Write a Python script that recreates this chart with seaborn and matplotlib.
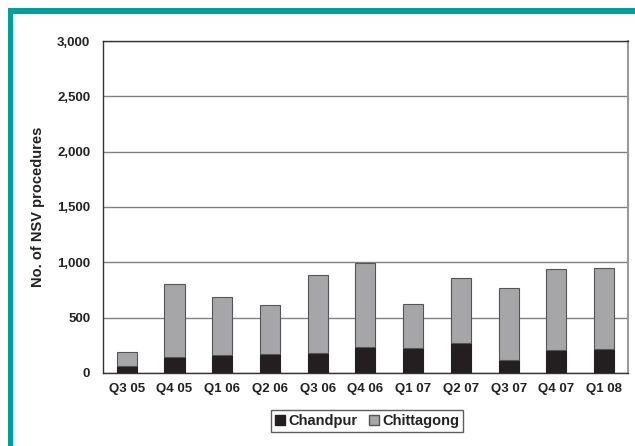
import numpy as np
import pandas as pd
import matplotlib
matplotlib.use("Agg")
import matplotlib.pyplot as plt
import seaborn as sns
from matplotlib.patches import Patch, Rectangle
from matplotlib.ticker import FuncFormatter, FixedLocator

# data
quarters = ["Q3 05", "Q4 05", "Q1 06", "Q2 06", "Q3 06", "Q4 06",
            "Q1 07", "Q2 07", "Q3 07", "Q4 07", "Q1 08"]
chandpur = [61, 142, 161, 170, 176, 233, 224, 270, 115, 209, 218]
chittagong = [130, 661, 521, 439, 709, 761, 403, 585, 649, 727, 727]

df = pd.DataFrame({"quarter": quarters, "Chandpur": chandpur, "Chittagong": chittagong})

sns.set_style("white")
plt.rcParams["font.family"] = ["Liberation Sans", "DejaVu Sans"]
plt.rcParams["font.weight"] = "bold"

black = "#231f20"
grey = "#a6a6a8"
teal = "#00a19c"

fig = plt.figure(figsize=(6.35, 4.46), dpi=100)
ax = fig.add_axes([0.162, 0.164, 0.827, 0.744])

sns.barplot(data=df, x="quarter", y="Chandpur", color=black, width=0.42,
            edgecolor=black, linewidth=0.8, ax=ax, zorder=3)
sns.barplot(data=df, x="quarter", y="Chittagong", bottom=df["Chandpur"], color=grey,
            width=0.42, edgecolor=black, linewidth=0.8, ax=ax, zorder=3)
# seaborn desaturates colors a bit; restore exact fills
for p in ax.patches[:len(quarters)]:
    p.set_facecolor(black)
for p in ax.patches[len(quarters):]:
    p.set_facecolor(grey)
    p.set_edgecolor("#555555")

ax.set_ylim(0, 3000)
ax.set_xlim(-0.5, len(quarters) - 0.5)
ax.set_yticks(np.arange(0, 3001, 500))
ax.yaxis.set_major_formatter(FuncFormatter(lambda v, _: f"{int(v):,}"))
ax.yaxis.grid(True, color="#808080", linewidth=1.0)
ax.set_axisbelow(True)

ax.set_xlabel("")
ax.set_ylabel("No. of NSV procedures", fontsize=10.5, fontweight="bold", labelpad=9,
              color="#222222")
ax.tick_params(axis="x", which="major", length=0, labelsize=9.5, pad=7, colors="#222222")
ax.tick_params(axis="y", which="major", length=4, width=0.8, labelsize=9.5, colors="#222222",
               direction="out", pad=5)
ax.xaxis.set_minor_locator(FixedLocator(np.arange(-0.5, len(quarters), 1.0)))
ax.tick_params(axis="x", which="minor", length=4, width=0.8, color="#444444", direction="out")
for lbl in ax.get_xticklabels() + ax.get_yticklabels():
    lbl.set_fontweight("bold")

for side in ["left", "top", "bottom"]:
    ax.spines[side].set_color("#333333")
    ax.spines[side].set_linewidth(1.0)
ax.spines["right"].set_color("#999999")
ax.spines["right"].set_linewidth(1.5)

handles = [Patch(facecolor=black, edgecolor=black, label="Chandpur"),
           Patch(facecolor=grey, edgecolor="#555555", label="Chittagong")]
leg = fig.legend(handles=handles, loc="center", bbox_to_anchor=(0.578, 0.056), ncol=2,
                 frameon=True, fancybox=False, handlelength=0.7,
                 handleheight=0.7, handletextpad=0.2, columnspacing=0.8,
                 borderpad=0.25, prop={"weight": "bold", "size": 10.5})
leg.get_frame().set_edgecolor("#333333")
leg.get_frame().set_linewidth(1.0)
for t in leg.get_texts():
    t.set_color("#222222")

# teal frame on top and left
fig.add_artist(Rectangle((8 / 635, 1 - 14 / 446), 627 / 635, 6 / 446,
                         transform=fig.transFigure, color=teal, lw=0))
fig.add_artist(Rectangle((8 / 635, 0), 5 / 635, 1 - 8 / 446,
                         transform=fig.transFigure, color=teal, lw=0))

fig.savefig("out.png", dpi=100)
